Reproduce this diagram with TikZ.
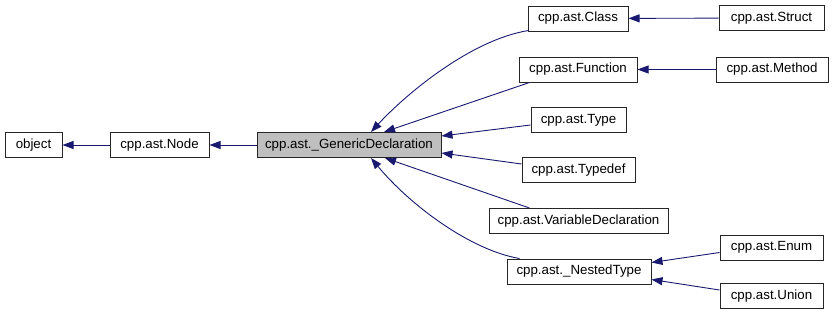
\documentclass[tikz,border=0pt]{standalone}
\usepackage{fontspec}
\setmainfont{Liberation Sans}
\usetikzlibrary{arrows.meta,calc}
\definecolor{edgeblue}{HTML}{191970}
\definecolor{focusgray}{HTML}{BFBFBF}
\begin{document}
\begin{tikzpicture}[x=1pt,y=-1pt,
  cls/.style={draw=black!85,line width=1pt,fill=white,minimum height=25pt,
    inner sep=0pt,font=\fontsize{13.3}{16}\selectfont},
  edge/.style={draw=edgeblue,line width=0.9pt,
    -{Triangle[length=11pt,width=8pt]}}]
\useasboundingbox (0,0) rectangle (832,316);
% classes
\node[cls,minimum width=57pt]  (obj)     at (33.5,145)  {object};
\node[cls,minimum width=99pt]  (astnode) at (159.5,145) {cpp.ast.Node};
\node[cls,minimum width=184pt,fill=focusgray] (gen) at (349,145) {cpp.ast.\_GenericDeclaration};
\node[cls,minimum width=100pt] (class)   at (578,18.5)  {cpp.ast.Class};
\node[cls,minimum width=118pt] (func)    at (578,69.5)  {cpp.ast.Function};
\node[cls,minimum width=95pt]  (type)    at (578.5,120) {cpp.ast.Type};
\node[cls,minimum width=113pt] (typedef) at (578.5,170) {cpp.ast.Typedef};
\node[cls,minimum width=179pt] (vardecl) at (578.5,221) {cpp.ast.VariableDeclaration};
\node[cls,minimum width=144pt] (nested)  at (579,271.5) {cpp.ast.\_NestedType};
\node[cls,minimum width=105pt] (struct)  at (771.5,18)  {cpp.ast.Struct};
\node[cls,minimum width=112pt] (method)  at (772,69.5)  {cpp.ast.Method};
\node[cls,minimum width=103pt] (enum)    at (771.5,247.5) {cpp.ast.Enum};
\node[cls,minimum width=103pt] (union)   at (771.5,296) {cpp.ast.Union};
% inheritance edges, arrow at the base class
\draw[edge] (astnode) -- (obj);
\draw[edge] (gen) -- (astnode);
\draw[edge] ($(class.south west)+(1,-1)$) .. controls (470,40) and (405,95) .. ($(gen.north)+(22,0)$);
\draw[edge] ($(func.south west)+(11,0)$) -- ($(gen.north)+(35,0)$);
\draw[edge] ($(type.west)+(0,5)$) -- ($(gen.east)+(0,-9)$);
\draw[edge] ($(typedef.west)+(0,-6)$) -- ($(gen.east)+(0,8)$);
\draw[edge] ($(vardecl.north west)+(41,0)$) -- ($(gen.south)+(36,0)$);
\draw[edge] ($(nested.north west)+(13,0)$) .. controls (470,250) and (410,205) .. ($(gen.south)+(22,0)$);
\draw[edge] (struct) -- (class);
\draw[edge] (method) -- (func);
\draw[edge] ($(enum.west)+(0,5)$) -- ($(nested.east)+(0,-9)$);
\draw[edge] ($(union.west)+(0,-6)$) -- ($(nested.east)+(0,8)$);
\end{tikzpicture}
\end{document}
